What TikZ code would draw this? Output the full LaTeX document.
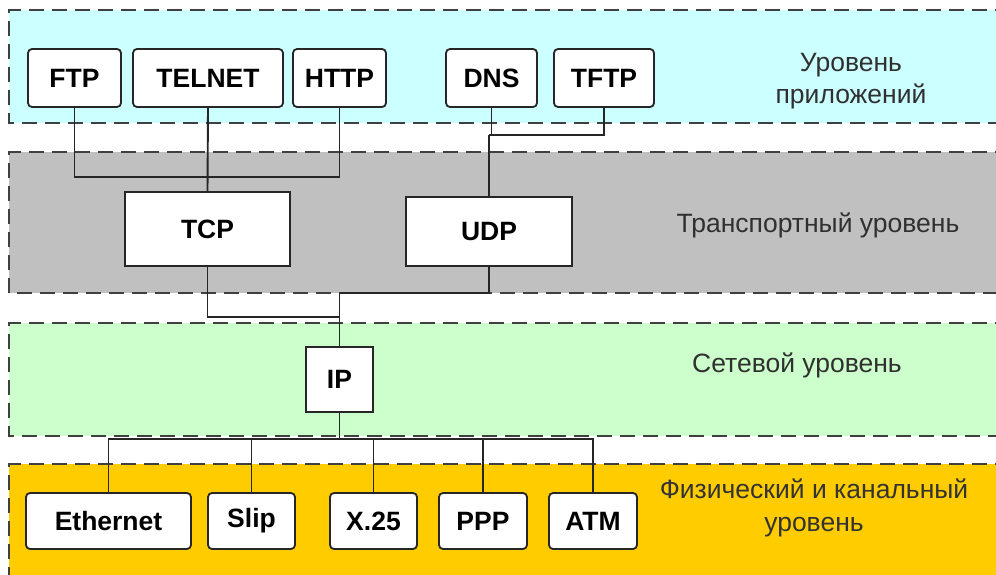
\documentclass[tikz,border=0pt]{standalone}
\usepackage{fontspec}
\setmainfont{Liberation Sans}
\definecolor{appc}{HTML}{CCFFFF}
\definecolor{trc}{HTML}{C0C0C0}
\definecolor{netc}{HTML}{CCFFCC}
\definecolor{phyc}{HTML}{FFCC00}
\definecolor{bordc}{HTML}{404040}
\definecolor{labc}{HTML}{303030}
\tikzset{
  band/.style={draw=bordc, line width=2pt, dash pattern=on 15pt off 8pt},
  pbox/.style={draw=black!85, fill=white, line width=1.8pt, rounded corners=4pt, inner sep=0pt,
     minimum height=58pt, font=\fontsize{26.5}{29}\selectfont\bfseries},
  sbox/.style={draw=black!85, fill=white, line width=1.8pt, inner sep=0pt,
     font=\fontsize{26.5}{29}\selectfont\bfseries},
  conn/.style={draw=black!85, line width=1.9pt},
  lab/.style={text=labc, align=center, font=\fontsize{26.5}{32.5}\selectfont}
}
\begin{document}
\begin{tikzpicture}[x=1pt,y=-1pt]
\useasboundingbox (0,0) rectangle (996,575);
\clip (0,0) rectangle (996,575);
% bands
\path[fill=appc] (9,10) rectangle (1010,123);
\path[fill=trc] (9,152) rectangle (1010,293);
\path[fill=netc] (9,323) rectangle (1010,436);
\path[fill=phyc] (9,464) rectangle (1010,590);
\draw[band] (1010,10) -- (9,10) -- (9,123) -- (1010,123);
\draw[band] (1010,152) -- (9,152) -- (9,293) -- (1010,293);
\draw[band] (1010,323) -- (9,323) -- (9,436) -- (1010,436);
\draw[band] (1010,464) -- (9,464) -- (9,590);
% junction coordinates
\coordinate (j1) at (208,177);
\coordinate (j2) at (489,135);
\coordinate (j3) at (339.5,317);
\coordinate (j4) at (339.5,293);
\coordinate (j5) at (339.5,439);
% boxes
\node[pbox, minimum width=93pt] (ftp) at (74.5,78) {FTP};
\node[pbox, minimum width=150pt] (telnet) at (208,78) {TELNET};
\node[pbox, minimum width=93pt] (http) at (339.5,78) {HTTP};
\node[pbox, minimum width=91pt] (dns) at (491.5,78) {DNS};
\node[pbox, minimum width=100pt] (tftp) at (604,78) {TFTP};
\node[sbox, minimum width=165pt, minimum height=74pt] (tcp) at (207.5,229) {TCP};
\node[sbox, minimum width=166pt, minimum height=69pt] (udp) at (489,231.5) {UDP};
\node[sbox, minimum width=67pt, minimum height=65pt] (ip) at (339.5,379.5) {IP};
\node[pbox, minimum width=165pt, minimum height=56pt] (eth) at (108.5,521) {Ethernet};
\node[pbox, minimum width=87pt, minimum height=56pt] (slip) at (251.5,521) {Slip};
\node[pbox, minimum width=87pt, minimum height=56pt] (x25) at (373.5,521) {X.25};
\node[pbox, minimum width=88pt, minimum height=56pt] (ppp) at (483,521) {PPP};
\node[pbox, minimum width=88pt, minimum height=56pt] (atm) at (593,521) {ATM};
% connectors
\draw[conn] (ftp.south) |- (j1) -| (http.south);
\draw[conn] (telnet.south) -- (tcp.north);
\draw[conn] (dns.south) |- (j2);
\draw[conn] (tftp.south) |- (j2);
\draw[conn] (j2) -- (udp.north);
\draw[conn] (tcp.south) |- (j3);
\draw[conn] (udp.south) |- (j4);
\draw[conn] (j4) -- (ip.north);
\draw[conn] (ip.south) -- (j5);
\draw[conn] (eth.north) |- (j5) -| (atm.north);
\draw[conn] (slip.north) -- (slip.north |- j5);
\draw[conn] (x25.north) -- (x25.north |- j5);
\draw[conn] (ppp.north) -- (ppp.north |- j5);
% labels
\node[lab] (lapp) at (851,81) {Уровень\\приложений};
\node[lab] (ltr) at (818,225) {Транспортный уровень};
\node[lab] (lnet) at (797,365) {Сетевой уровень};
\node[lab, text=black!80] (lphy) at (814,508) {Физический и канальный\\уровень};
\end{tikzpicture}
\end{document}
